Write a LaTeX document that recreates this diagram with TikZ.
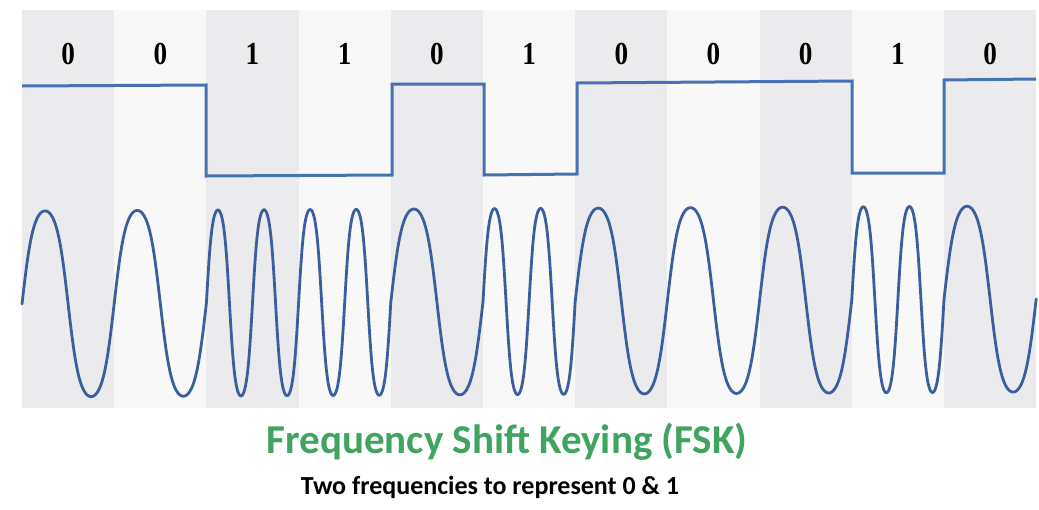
\documentclass[tikz,border=0pt]{standalone}
\usepackage{fontspec}
\setmainfont{Liberation Serif}
\newfontfamily\calfont{Carlito}
\definecolor{wave}{HTML}{3D5E9E}
\definecolor{sq}{HTML}{4672B4}
\definecolor{band}{HTML}{EBEBED}
\definecolor{bandlight}{HTML}{F8F8F9}
\definecolor{fskgreen}{HTML}{3FA45E}
\begin{document}
\begin{tikzpicture}[x=1pt,y=-1pt,
  bitlabel/.style={font=\bfseries\fontsize{32}{32}\selectfont, inner sep=0pt},
  sqline/.style={draw=sq, line width=3pt},
  waveline/.style={draw=wave, line width=2.8pt, line cap=round},
  titletext/.style={font=\calfont\bfseries\fontsize{41}{41}\selectfont, text=fskgreen, inner sep=0pt},
  subtext/.style={font=\calfont\bfseries\fontsize{26}{26}\selectfont, inner sep=0pt}]
\useasboundingbox (0,0) rectangle (1039,509);
\fill[white] (0,0) rectangle (1039,509);
% background bands
\foreach \i in {0,...,10}{
  \pgfmathsetmacro\xa{22+92.2*\i}
  \pgfmathtruncatemacro\odd{mod(\i,2)}
  \ifnum\odd=0
    \fill[band] (\xa,10) rectangle ++(92.2,398);
  \else
    \fill[bandlight] (\xa,10) rectangle ++(92.2,398);
  \fi
}
% bit labels
\foreach \b [count=\i from 0] in {0,0,1,1,0,1,0,0,0,1,0}{
  \node[bitlabel] (b\i) at ({22+92.2*(\i+0.5)},54) {\scalebox{0.85}[1]{\b}};
}
% square wave
\draw[sqline] (22,86) -- (206,85) -- (206,176) -- (392,175) -- (392,84) -- (484,84)
  -- (484,175) -- (577,174) -- (577,83) -- (852,81) -- (852,173) -- (944,173)
  -- (944,80) -- (1036,79);
% FSK wave
\foreach \b [count=\i from 0] in {0,0,1,1,0,1,0,0,0,1,0}{
  \pgfmathsetmacro\xo{22+92.2*\i}
  \pgfmathsetmacro\fr{\b+1}
  \draw[waveline] plot[domain=0:92.2, samples=160, smooth]
    ({\xo+\x}, {304-0.005*(\xo+\x-22)-93*tanh(1.1*sin(3.9046*\fr*\x))/0.8005});
}
% captions
\node[titletext] (title) at (507,442) {Frequency Shift Keying (FSK)};
\node[subtext] (sub) at (490,487) {Two frequencies to represent 0 \& 1};
\end{tikzpicture}
\end{document}
